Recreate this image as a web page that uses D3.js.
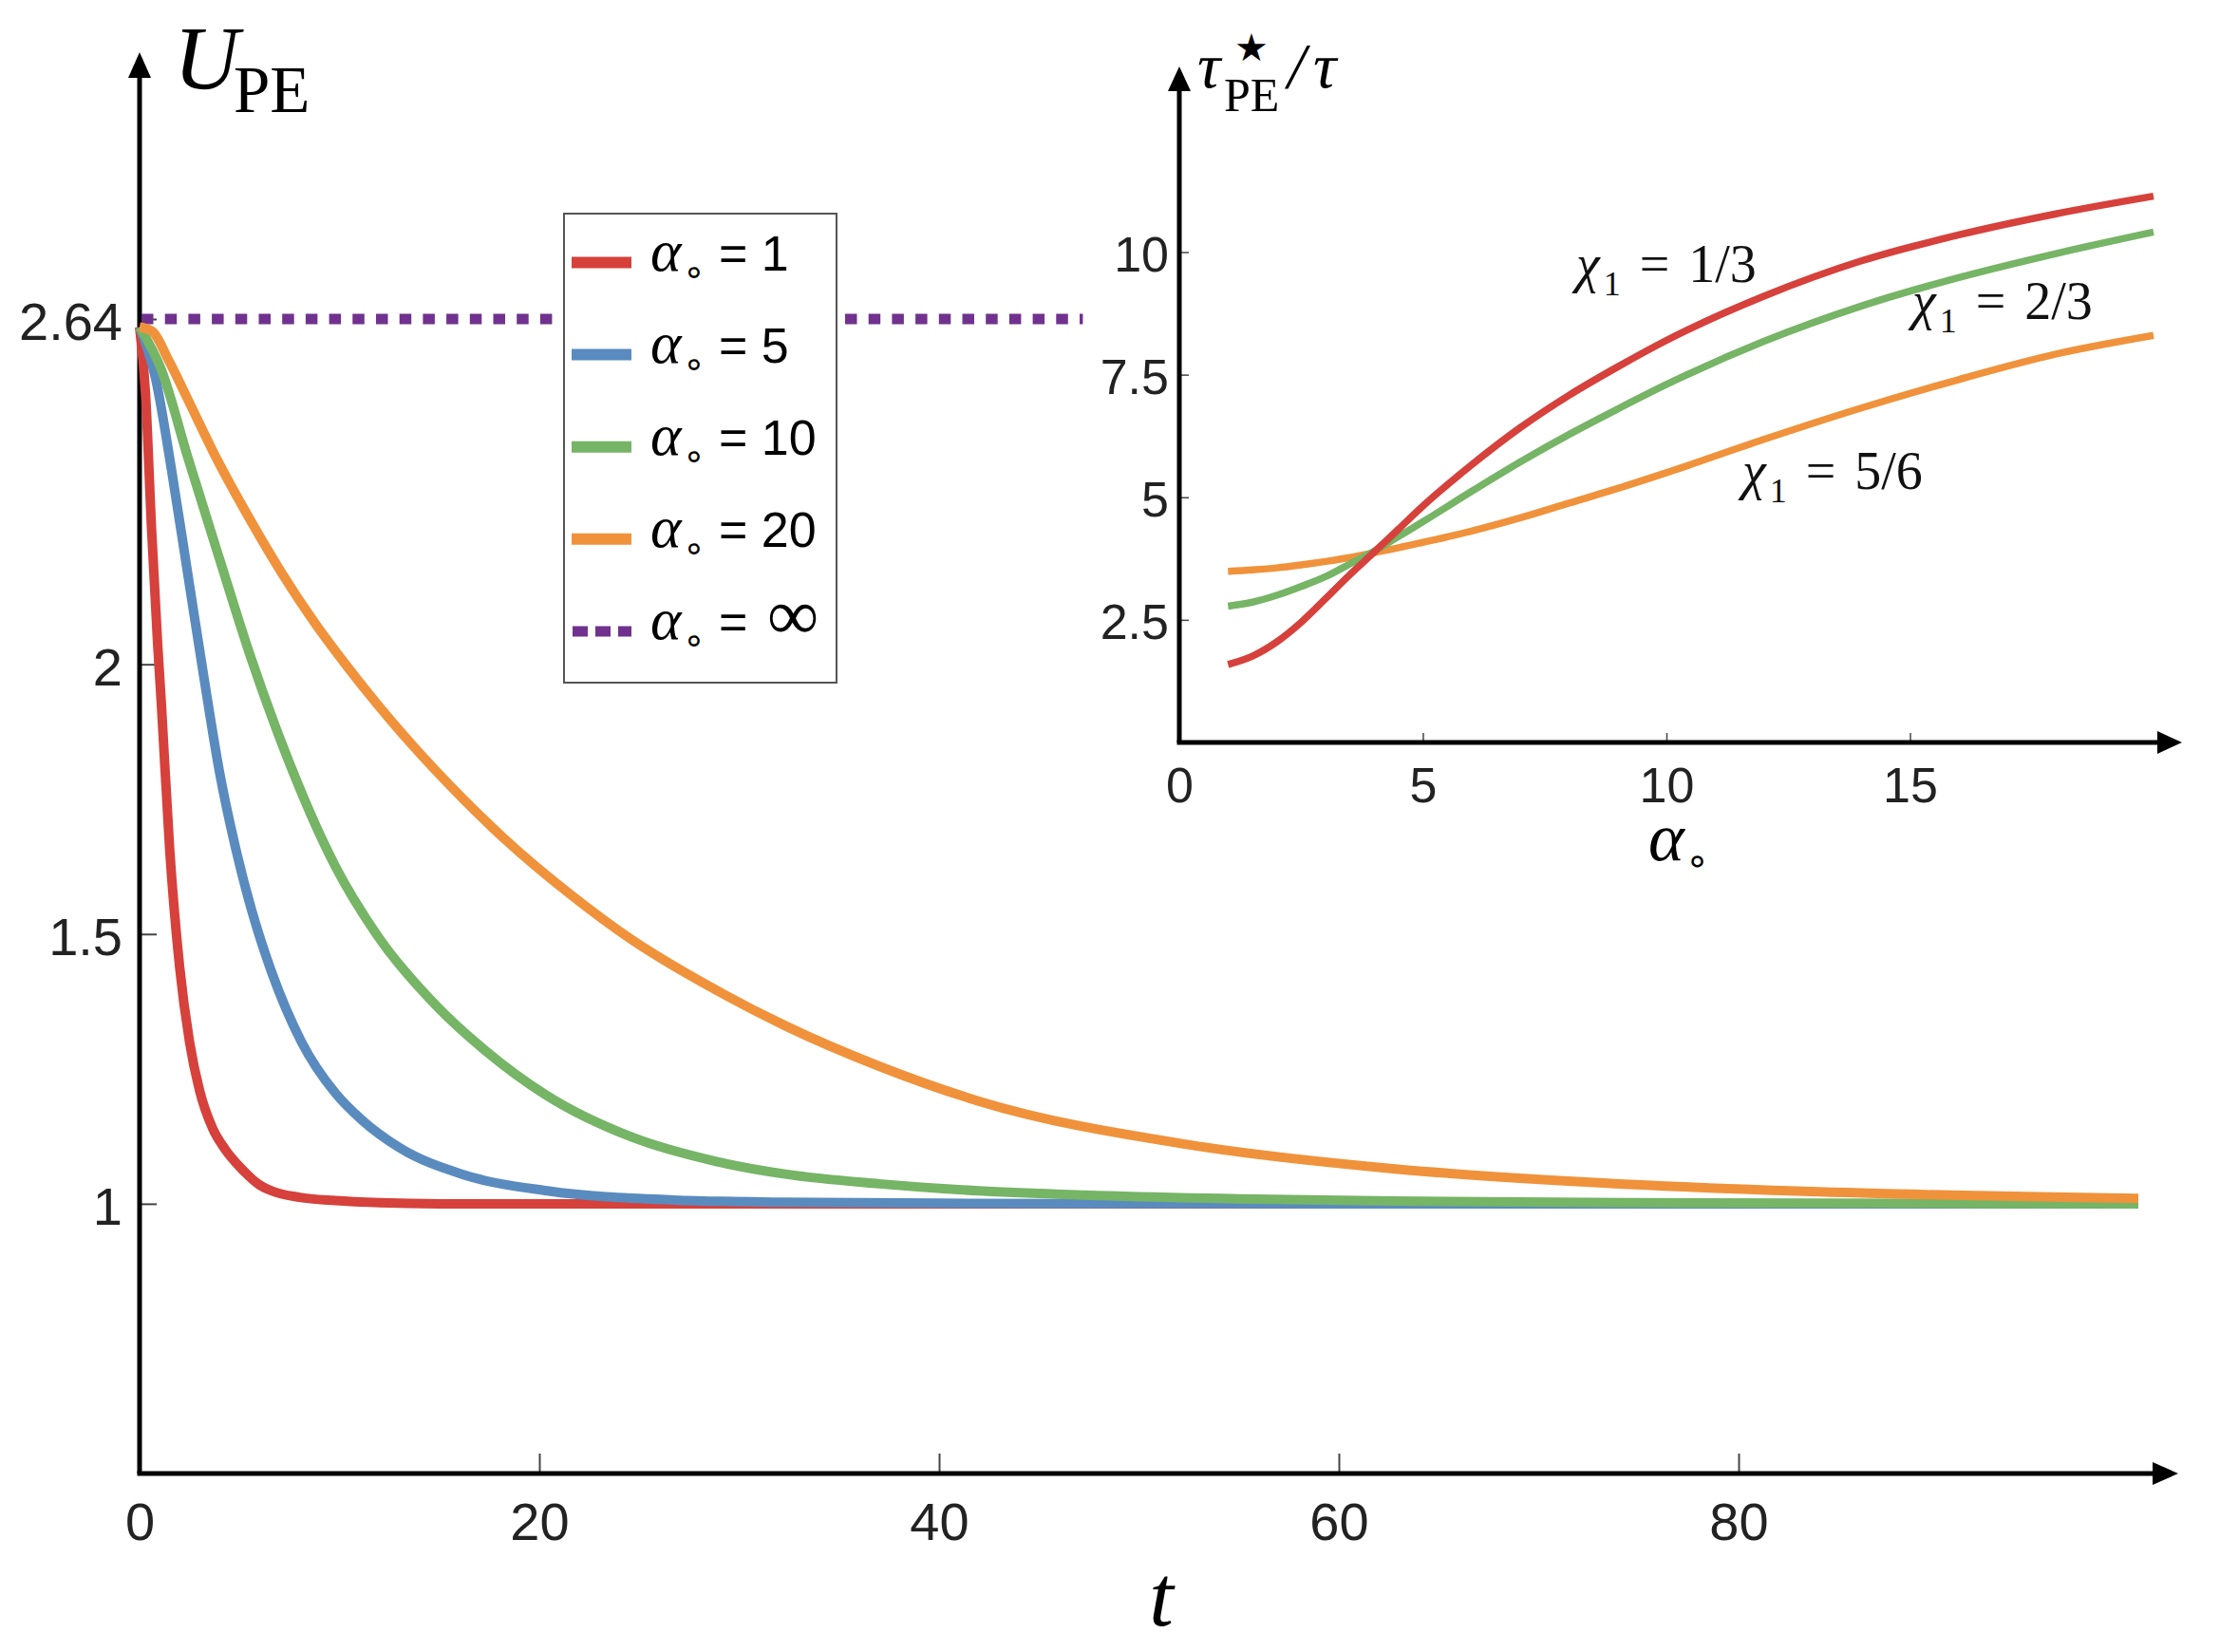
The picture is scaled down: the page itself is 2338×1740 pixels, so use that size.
<!DOCTYPE html>
<html><head><meta charset="utf-8">
<script src="https://cdn.jsdelivr.net/npm/d3@7"></script>
<style>body{margin:0;background:#fff}svg{display:block}</style>
</head><body>
<svg id="c" width="2338" height="1740"></svg>
<script>
// ---------------- DATA ----------------
// Main panel: U_PE(t) for several alpha
const mainXTicks = [0, 20, 40, 60, 80];
const mainYTicks = [1, 1.5, 2, 2.64];

const tA1  = [0,0.3,0.6,0.9,1.1,1.5,2.0,2.5,3.0,3.65,4.3,5.1,6.0,6.6,8,9.8,12,15,30,60,100];
const uA1  = [2.625,2.5,2.25,2.04,1.92,1.66,1.44,1.30,1.21,1.14,1.10,1.065,1.035,1.024,1.012,1.006,1.002,1.0,1.0,1.0,1.0];

const tA5  = [0,0.8,1.6,2.4,3.2,4.0,4.8,5.6,6.6,8.1,9.8,11.1,13,16.2,20.4,26.7,32,40,60,100];
const uA5  = [2.625,2.53,2.36,2.17,1.98,1.80,1.66,1.545,1.43,1.30,1.205,1.156,1.104,1.054,1.024,1.007,1.003,1.001,1.0,1.0];

const tA10 = [0,1.1,2.4,4.0,5.5,7.15,9.8,11.9,14.9,17.2,20.4,24.6,28.9,32.3,37,42,47.3,55,62.7,75,100];
const uA10 = [2.625,2.545,2.385,2.195,2.02,1.85,1.625,1.497,1.365,1.287,1.20,1.124,1.078,1.055,1.037,1.024,1.016,1.009,1.005,1.002,1.0];

const tA20 = [0,0.6,1.5,2.4,3.9,5.5,7.1,8.7,10.3,11.8,13.7,16.2,18.3,21.5,24.6,28.9,32.3,37,42,52.4,62.7,73,83.3,100];
const uA20 = [2.625,2.618,2.56,2.492,2.378,2.27,2.17,2.08,2.0,1.93,1.848,1.75,1.675,1.575,1.49,1.395,1.33,1.255,1.19,1.11,1.065,1.039,1.023,1.01];

const tInf = [0, 47.1];
const uInf = [2.64, 2.64];

const legendLabels = ['1', '5', '10', '20', '\u221E'];

// Inset: tau*_PE / tau vs alpha for chi_1
const insetXTicks = [0, 5, 10, 15];
const insetYTicks = [2.5, 5, 7.5, 10];
const alphaGrid = [1,1.5,2,2.5,3,3.5,4,4.5,5,6,7,8,9,10,12,14,16,18,20];
const tauChi13 = [1.59,1.76,2.05,2.45,2.93,3.42,3.88,4.35,4.82,5.66,6.42,7.08,7.66,8.2,9.1,9.82,10.35,10.78,11.14];
const tauChi23 = [2.78,2.86,3.00,3.18,3.38,3.64,3.90,4.20,4.50,5.12,5.72,6.28,6.80,7.30,8.18,8.90,9.48,9.97,10.41];
const tauChi56 = [3.49,3.52,3.56,3.62,3.69,3.77,3.87,3.97,4.08,4.31,4.58,4.88,5.18,5.50,6.18,6.82,7.40,7.92,8.30];
const chiLabels = ['1/3', '2/3', '5/6'];

// ---------------- STYLE ----------------
const RED = '#d6413b', BLUE = '#5a8bbf', GREEN = '#76b466', ORANGE = '#f0923b', PURPLE = '#70328e';
const SERIF = "'Liberation Serif','Times New Roman',serif";
const SANS = "'Liberation Sans',Arial,Helvetica,sans-serif";
const RING = "'DejaVu Sans',sans-serif";

const svg = d3.select('#c');
svg.append('rect').attr('width', 2338).attr('height', 1740).attr('fill', '#fff');

// ---------------- MAIN PANEL ----------------
const xM = d3.scaleLinear().domain([0, 100]).range([147, 2252]);
const yM = d3.scaleLinear().domain([0.5, 2.64]).range([1552, 336]);

function arrowHead(g, tipX, tipY, dir, len, half) {
  let p;
  if (dir === 'right') p = [[tipX, tipY], [tipX - len, tipY - half], [tipX - len, tipY + half]];
  else p = [[tipX, tipY], [tipX - half, tipY + len], [tipX + half, tipY + len]];
  g.append('path').attr('d', 'M' + p.map(q => q.join(',')).join('L') + 'Z').attr('fill', '#000');
}

const gxM = svg.append('g').attr('transform', `translate(0,${yM(0.5)})`)
  .call(d3.axisBottom(xM).tickValues(mainXTicks).tickSize(-21).tickPadding(30).tickFormat(d => String(d)));
gxM.select('.domain').remove();
gxM.selectAll('.tick line').attr('stroke', '#444').attr('stroke-width', 2);
gxM.selectAll('.tick text').attr('font-family', SANS).attr('font-size', 56).attr('fill', '#222');

const gyM = svg.append('g').attr('transform', `translate(${xM(0)},0)`)
  .call(d3.axisLeft(yM).tickValues(mainYTicks).tickSize(-18).tickPadding(18).tickFormat(d => String(d)));
gyM.select('.domain').remove();
gyM.selectAll('.tick line').attr('stroke', '#444').attr('stroke-width', 2);
gyM.selectAll('.tick text').attr('font-family', SANS).attr('font-size', 56).attr('fill', '#222').attr('dy', '0.39em');

const axM = svg.append('g');
axM.append('path').attr('d', `M${xM(0)},${yM(0.5)}V80`).attr('stroke', '#000').attr('stroke-width', 5).attr('fill', 'none');
axM.append('path').attr('d', `M${xM(0) - 2.5},${yM(0.5)}H2268`).attr('stroke', '#000').attr('stroke-width', 5).attr('fill', 'none');
arrowHead(axM, 2294, yM(0.5), 'right', 27, 12);
arrowHead(axM, xM(0), 55, 'up', 27, 12);

const lineM = d3.line().x(d => xM(d[0])).y(d => yM(d[1])).curve(d3.curveMonotoneX);
const mainSeries = [
  {t: tA1, u: uA1, c: RED},
  {t: tA5, u: uA5, c: BLUE},
  {t: tA10, u: uA10, c: GREEN},
  {t: tA20, u: uA20, c: ORANGE}
];

// dotted alpha = infinity line
svg.append('path').datum(tInf.map((t, i) => [t, uInf[i]]))
  .attr('d', d3.line().x(d => xM(d[0]) + 2).y(d => yM(d[1])))
  .attr('stroke', PURPLE).attr('stroke-width', 11).attr('fill', 'none')
  .attr('stroke-dasharray', '12.5 12.2');

mainSeries.forEach(s => {
  svg.append('path').datum(s.t.map((t, i) => [t, s.u[i]]))
    .attr('d', lineM).attr('stroke', s.c).attr('stroke-width', 10)
    .attr('fill', 'none').attr('stroke-linejoin', 'round');
});

// axis titles
const uLab = svg.append('text').attr('font-family', SERIF).attr('fill', '#000');
uLab.append('tspan').attr('x', 183).attr('y', 94).attr('font-size', 95).attr('font-style', 'italic').text('U');
uLab.append('tspan').attr('x', 246).attr('y', 118).attr('font-size', 69).text('PE');

svg.append('text').attr('x', 1223).attr('y', 1712).attr('text-anchor', 'middle')
  .attr('font-family', SERIF).attr('font-style', 'italic').attr('font-size', 92).text('t');

// legend
const lg = svg.append('g');
lg.append('rect').attr('x', 594).attr('y', 225).attr('width', 287).attr('height', 494)
  .attr('fill', '#fff').attr('stroke', '#555').attr('stroke-width', 2);
const legColors = [RED, BLUE, GREEN, ORANGE, PURPLE];
legendLabels.forEach((lab, i) => {
  const cy = 276.5 + i * 97.1;
  const sw = lg.append('line').attr('x1', 602).attr('x2', 665).attr('y1', cy).attr('y2', cy)
    .attr('stroke', legColors[i]).attr('stroke-width', i === 4 ? 11 : 12);
  if (i === 4) sw.attr('stroke-dasharray', '16 8').attr('x1', 603);
  const tx = lg.append('text').attr('y', cy + 8.5).attr('fill', '#000');
  tx.append('tspan').attr('x', 685).attr('font-family', SERIF).attr('font-style', 'italic').attr('font-size', 62).text('\u03B1');
  tx.append('tspan').attr('x', 719).attr('dy', 14).attr('font-family', RING).attr('font-size', 38).text('\u2218');
  if (lab === '\u221E') {
    tx.append('tspan').attr('x', 757).attr('dy', -14).attr('font-family', SANS).attr('font-size', 52).text('=');
    tx.append('tspan').attr('x', 808).attr('font-family', SERIF).attr('font-size', 76).text(lab);
  } else {
    tx.append('tspan').attr('x', 757).attr('dy', -14).attr('font-family', SANS).attr('font-size', 52).text('= ' + lab);
  }
});

// ---------------- INSET ----------------
const xI = d3.scaleLinear().domain([0, 20]).range([1242, 2268]);
const yI = d3.scaleLinear().domain([0, 10]).range([782, 265.5]);

const gxI = svg.append('g').attr('transform', `translate(0,${yI(0)})`)
  .call(d3.axisBottom(xI).tickValues(insetXTicks).tickSize(-10).tickPadding(26).tickFormat(d => String(d)));
gxI.select('.domain').remove();
gxI.selectAll('.tick line').attr('stroke', '#444').attr('stroke-width', 1.5);
gxI.selectAll('.tick text').attr('font-family', SANS).attr('font-size', 52).attr('fill', '#222');

const gyI = svg.append('g').attr('transform', `translate(${xI(0)},0)`)
  .call(d3.axisLeft(yI).tickValues(insetYTicks).tickSize(-10).tickPadding(11).tickFormat(d => String(d)));
gyI.select('.domain').remove();
gyI.selectAll('.tick line').attr('stroke', '#444').attr('stroke-width', 1.5);
gyI.selectAll('.tick text').attr('font-family', SANS).attr('font-size', 52).attr('fill', '#222').attr('dy', '0.375em');

const axI = svg.append('g');
axI.append('path').attr('d', `M${xI(0)},${yI(0)}V94`).attr('stroke', '#000').attr('stroke-width', 5).attr('fill', 'none');
axI.append('path').attr('d', `M${xI(0) - 2.5},${yI(0)}H2273`).attr('stroke', '#000').attr('stroke-width', 5).attr('fill', 'none');
arrowHead(axI, 2298, yI(0), 'right', 26, 12);
arrowHead(axI, xI(0), 70, 'up', 26, 12);

const lineI = d3.line().x(d => xI(d[0])).y(d => yI(d[1])).curve(d3.curveMonotoneX);
[[tauChi56, ORANGE], [tauChi23, GREEN], [tauChi13, RED]].forEach(([vals, c]) => {
  svg.append('path').datum(alphaGrid.map((a, i) => [a, vals[i]]))
    .attr('d', lineI).attr('stroke', c).attr('stroke-width', 7.5).attr('fill', 'none');
});

// inset y title tau*_PE / tau
const tauG = svg.append('g').attr('font-family', SERIF).attr('fill', '#000');
tauG.append('text').attr('x', 1261).attr('y', 92).attr('font-size', 68).attr('font-style', 'italic').text('\u03C4');
tauG.append('text').attr('x', 1318).attr('y', 64).attr('text-anchor', 'middle').attr('font-family', RING).attr('font-size', 40).text('\u2605');
tauG.append('text').attr('x', 1289).attr('y', 117).attr('font-size', 50).text('PE');
tauG.append('text').attr('x', 1356).attr('y', 92).attr('font-size', 68).attr('font-style', 'italic').text('/');
tauG.append('text').attr('x', 1383).attr('y', 92).attr('font-size', 68).attr('font-style', 'italic').text('\u03C4');

// inset x title alpha_o
const alG = svg.append('text').attr('y', 906).attr('fill', '#000');
alG.append('tspan').attr('x', 1736).attr('font-family', SERIF).attr('font-style', 'italic').attr('font-size', 72).text('\u03B1');
alG.append('tspan').attr('x', 1775).attr('dy', 14).attr('font-family', RING).attr('font-size', 40).text('\u2218');

// chi labels
const chiPos = [[1660, 297], [2014, 336], [1835, 515]];
chiLabels.forEach((lab, i) => {
  const t = svg.append('text').attr('x', chiPos[i][0]).attr('y', chiPos[i][1])
    .attr('font-family', SERIF).attr('font-size', 56).attr('fill', '#111');
  t.append('tspan').attr('font-style', 'italic').text('\u03C7');
  t.append('tspan').attr('font-size', 36).attr('dy', 14).attr('dx', 4).text('1');
  t.append('tspan').attr('dy', -14).attr('dx', 20).text('=');
  t.append('tspan').attr('dx', 20).text(lab);
});
</script>
</body></html>
